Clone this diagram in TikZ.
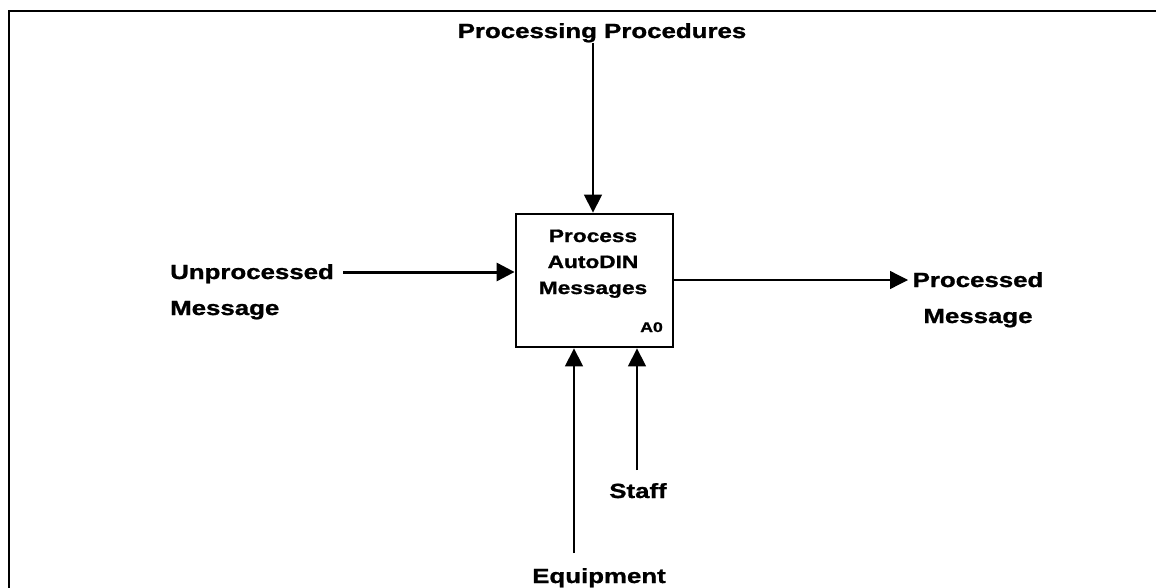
\documentclass[tikz,border=0pt]{standalone}
\usepackage{fontspec}
\usetikzlibrary{arrows.meta}
\setmainfont{Liberation Sans}
\newfontfamily\wide[FakeStretch=1.26,FakeBold=1.2]{Liberation Sans}
\begin{document}
\begin{tikzpicture}[x=1pt,y=-1pt,
  lbl/.style={inner sep=0pt,font=\wide\bfseries\fontsize{20.5}{36}\selectfont},
  boxtext/.style={inner sep=0pt,font=\wide\bfseries\fontsize{18}{26}\selectfont},
  flow/.style={line width=1.3pt,-{Triangle[length=18pt,width=18pt]}},
  heavyflow/.style={flow,line width=3pt},
  activity/.style={draw,line width=2.8pt,minimum width=157pt,minimum height=133pt,inner sep=0pt}]
  \useasboundingbox (0,0) rectangle (1156,588);

  % frame edges
  \draw[line width=2.8pt] (9,588) -- (9,11) -- (1160,11);

  % activity box
  \node[activity] (box) at (594.5,280.5) {};
  \node[boxtext,align=center,anchor=base] (boxlabel) at (593,294) {Process\\AutoDIN\\Messages};
  \node[inner sep=0pt,font=\wide\bfseries\fontsize{14}{16}\selectfont,anchor=base east] (a0) at (663,332) {A0};

  % labels (multi-line nodes are placed by the baseline of their last line)
  \node[lbl,anchor=base] (ctrl) at (602,38) {Processing Procedures};
  \node[lbl,align=left,anchor=base west] (input) at (170,315) {Unprocessed\\Message};
  \node[lbl,align=center,anchor=base] (output) at (978,323) {Processed\\Message};
  \node[lbl,anchor=base] (staff) at (638,498) {Staff};
  \node[lbl,anchor=base] (equip) at (599,583) {Equipment};

  % arrow ends
  \coordinate (ctrlS) at (593,43);
  \coordinate (inS) at (343,272);
  \coordinate (outE) at (908,280);
  \coordinate (staffS) at (637,470);
  \coordinate (equipS) at (574,553);

  % arrows
  \draw[flow] (ctrlS) -- (ctrlS |- box.north);
  \draw[heavyflow] (inS) -- (inS -| box.west);
  \draw[flow] (outE -| box.east) -- (outE);
  \draw[flow] (staffS) -- (staffS |- box.south);
  \draw[flow] (equipS) -- (equipS |- box.south);
\end{tikzpicture}
\end{document}
